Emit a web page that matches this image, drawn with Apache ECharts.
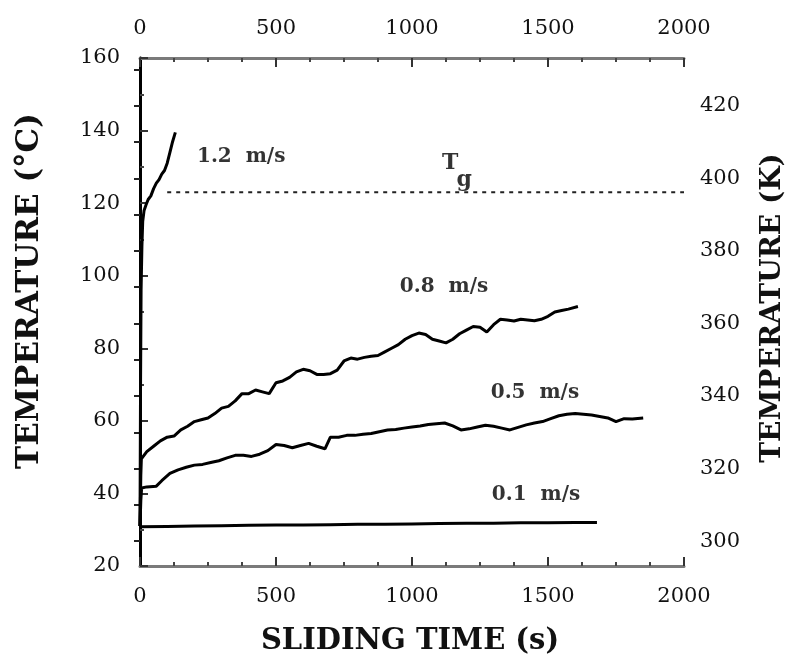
<!DOCTYPE html>
<html>
<head>
<meta charset="utf-8">
<script src="https://cdn.jsdelivr.net/npm/echarts@6/dist/echarts.min.js"></script>
<style>
  html, body { margin: 0; padding: 0; background: #fff; }
  #chart { width: 802px; height: 663px; }
</style>
</head>
<body>
<div id="chart"></div>
<script>
// sliding time (s) and temperature (°C)
const t12 = [0, 2, 4, 7, 10, 15, 22, 30, 40, 50, 60, 70, 80, 90, 100, 110, 120, 130];
const T12 = [31, 70, 96, 108, 115, 118, 119.5, 121, 122, 124, 125.5, 126.5, 128, 129, 131, 134, 137, 139.5];

const t08 = [0, 3, 5, 25, 50, 75, 100, 125, 150, 175, 200, 225, 250, 275, 300, 325, 350, 375, 400, 425,
  450, 475, 500, 525, 550, 575, 600, 625, 650, 675, 700, 725, 750, 775, 800, 825, 850, 875, 900, 925,
  950, 975, 1000, 1025, 1050, 1075, 1100, 1125, 1150, 1175, 1200, 1225, 1250, 1275, 1300, 1325, 1350,
  1375, 1400, 1425, 1450, 1475, 1500, 1525, 1550, 1575, 1610];
const T08 = [31, 45, 49.5, 51.5, 53, 54.5, 55.5, 55.8, 57.5, 58.5, 59.8, 60.3, 60.8, 62, 63.5, 64, 65.5, 67.5, 67.5, 68.5,
  68, 67.5, 70.5, 71, 72, 73.5, 74.2, 73.8, 72.8, 72.8, 73, 74, 76.5, 77.3, 77, 77.5, 77.8, 78, 79, 80,
  81, 82.5, 83.5, 84.2, 83.8, 82.5, 82, 81.5, 82.5, 84, 85, 86, 85.8, 84.5, 86.5, 88, 87.8,
  87.5, 88, 87.8, 87.6, 88, 88.8, 90, 90.4, 90.8, 91.5];

const t05 = [0, 3, 6, 25, 60, 80, 110, 140, 170, 200, 230, 260, 290, 320, 350, 380, 410, 440, 470, 500,
  530, 560, 590, 620, 650, 680, 700, 730, 760, 790, 820, 850, 880, 910, 940, 970, 1000, 1030, 1060, 1090,
  1120, 1150, 1180, 1210, 1240, 1270, 1300, 1330, 1360, 1390, 1420, 1450, 1480, 1510, 1540, 1570, 1600,
  1630, 1660, 1690, 1720, 1750, 1780, 1810, 1850];
const T05 = [31, 38, 41.5, 41.8, 42, 43.5, 45.5, 46.5, 47.2, 47.8, 48, 48.5, 49, 49.8, 50.5, 50.5, 50.2, 50.8, 51.8, 53.5,
  53.2, 52.6, 53.2, 53.8, 53, 52.3, 55.5, 55.5, 56, 56, 56.3, 56.5, 57, 57.5, 57.6, 58, 58.3, 58.6, 59, 59.2,
  59.4, 58.6, 57.5, 57.8, 58.3, 58.8, 58.5, 58, 57.5, 58.2, 58.9, 59.4, 59.8, 60.6, 61.4, 61.8, 62,
  61.8, 61.6, 61.2, 60.8, 59.8, 60.6, 60.5, 60.8];

const t01 = [0, 100, 200, 300, 400, 500, 600, 700, 800, 900, 1000, 1100, 1200, 1300, 1400, 1500, 1600, 1680];
const T01 = [30.8, 30.9, 31.0, 31.1, 31.2, 31.3, 31.3, 31.4, 31.5, 31.5, 31.6, 31.7, 31.8, 31.8, 31.9, 31.9, 32.0, 32.0];

// glass transition line
const tgTime = [100, 2000];
const tgTemp = [123, 123];

const xTicks = [0, 500, 1000, 1500, 2000];
const kelvinLabels = [300, 320, 340, 360, 380, 400, 420];
const kelvinTicks = [300, 310, 320, 330, 340, 350, 360, 370, 380, 390, 400, 410, 420, 430];

// curve labels, anchored in data coordinates
const curveLabels = [
  [372, 132.7, '1.2  m/s'],
  [1118, 96.9, '0.8  m/s'],
  [1452, 67.7, '0.5  m/s'],
  [1456, 39.6, '0.1  m/s'],
];
const tgLabel = [[1140, 131, 'T'], [1192, 126.4, 'g']];

const zip = (xs, ys) => xs.map((x, i) => [x, ys[i]]);

const FONT = '"DejaVu Serif", "Liberation Serif", serif';
const axisGray = '#7a7a7a';
const plain = (v) => String(v);

const chart = echarts.init(document.getElementById('chart'), null, { renderer: 'canvas' });

const lineSeries = (data) => ({
  type: 'line',
  data,
  showSymbol: false,
  lineStyle: { color: '#000', width: 3 },
  z: 3,
});

const xAxisBase = (pos, margin) => ({
  type: 'value', position: pos, min: 0, max: 2000, interval: 500,
  axisLine: { lineStyle: { color: axisGray, width: 3 } },
  axisTick: { inside: true, length: 9, lineStyle: { color: '#333', width: 2 } },
  minorTick: { show: true, splitNumber: 4, length: 4, lineStyle: { color: '#444', width: 2 } },
  splitLine: { show: false },
  axisLabel: { margin, fontFamily: FONT, fontSize: 21, color: '#111', formatter: plain,
    customValues: xTicks },
});

chart.setOption({
  backgroundColor: '#fff',
  animation: false,
  grid: { left: 140, right: 118, top: 58, bottom: 97 },
  xAxis: [xAxisBase('bottom', 20), xAxisBase('top', 19)],
  yAxis: [
    {
      type: 'value', position: 'left', min: 20, max: 160, interval: 20,
      axisLine: { show: true, lineStyle: { color: axisGray, width: 3 } },
      axisTick: { show: true, inside: true, length: 8, lineStyle: { color: '#333', width: 2 } },
      minorTick: { show: true, splitNumber: 2, length: 4, lineStyle: { color: '#444', width: 2 } },
      splitLine: { show: false },
      axisLabel: { margin: 20, fontFamily: FONT, fontSize: 21, color: '#111', formatter: plain },
    },
    {
      type: 'value', position: 'right', min: 293.15, max: 433.15,
      axisLine: { show: true, lineStyle: { color: '#000', width: 3 } },
      axisTick: { show: true, inside: true, length: 6, customValues: kelvinTicks,
        lineStyle: { color: '#222', width: 2 } },
      splitLine: { show: false },
      axisLabel: { margin: 16, fontFamily: FONT, fontSize: 21, color: '#111', formatter: plain,
        customValues: kelvinLabels },
    },
  ],
  graphic: [
    {
      type: 'text', x: 410, y: 641,
      style: { text: 'SLIDING TIME (s)', font: 'bold 29px ' + FONT, fill: '#111',
        align: 'center', verticalAlign: 'middle' },
    },
    {
      type: 'text', x: 30, y: 291, rotation: Math.PI / 2,
      style: { text: 'TEMPERATURE (°C)', font: 'bold 31px ' + FONT, fill: '#111',
        align: 'center', verticalAlign: 'middle' },
    },
    {
      type: 'text', x: 773, y: 308, rotation: Math.PI / 2,
      style: { text: 'TEMPERATURE (K)', font: 'bold 28px ' + FONT, fill: '#111',
        align: 'center', verticalAlign: 'middle' },
    },
  ],
  series: [
    lineSeries(zip(t12, T12)),
    lineSeries(zip(t08, T08)),
    lineSeries(zip(t05, T05)),
    lineSeries(zip(t01, T01)),
    {
      type: 'line',
      data: zip(tgTime, tgTemp),
      showSymbol: false,
      lineStyle: { color: '#222', width: 2, type: [4, 5] },
    },
    {
      type: 'scatter',
      data: curveLabels,
      symbolSize: 0,
      label: {
        show: true, position: 'inside', formatter: (p) => p.value[2],
        fontFamily: FONT, fontWeight: 'bold', fontSize: 20, color: '#000',
      },
    },
    {
      type: 'scatter',
      data: tgLabel,
      symbolSize: 0,
      label: {
        show: true, position: 'inside', formatter: (p) => p.value[2],
        fontFamily: FONT, fontWeight: 'bold', fontSize: 22, color: '#000',
      },
    },
  ],
});
</script>
</body>
</html>
